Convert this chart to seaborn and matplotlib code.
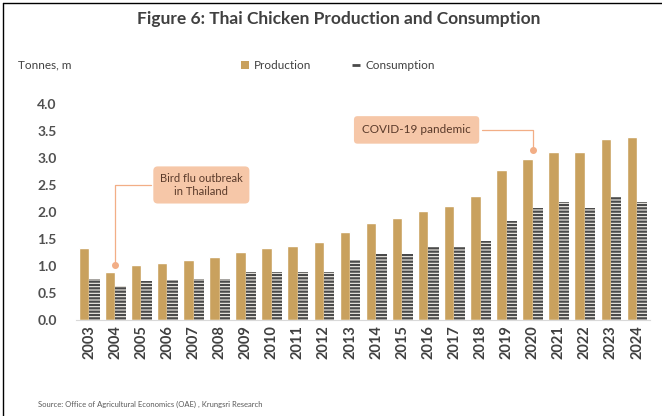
import numpy as np
import pandas as pd
import matplotlib.pyplot as plt
import seaborn as sns
from matplotlib.patches import Patch
from matplotlib.lines import Line2D

years = [str(y) for y in range(2003, 2025)]
production = [1.34, 0.88, 1.02, 1.06, 1.11, 1.16, 1.26, 1.33, 1.36, 1.45, 1.62,
              1.79, 1.88, 2.02, 2.11, 2.30, 2.77, 2.99, 3.11, 3.11, 3.36, 3.39]
consumption = [0.75, 0.62, 0.73, 0.74, 0.75, 0.75, 0.88, 0.88, 0.88, 0.88, 1.11,
               1.23, 1.23, 1.35, 1.35, 1.47, 1.83, 2.07, 2.18, 2.07, 2.28, 2.18]

df = pd.DataFrame({"year": years * 2,
                   "value": production + consumption,
                   "series": ["Production"] * len(years) + ["Consumption"] * len(years)})

sns.set_style("white")
plt.rcParams['font.family'] = ['Lato', 'DejaVu Sans']

prod_color = "#C9A15E"
hatch_color = "#4a4a4a"
box_color = "#F6C7A8"
line_color = "#F2AE86"

# hatch settings must be in place before the bars are made
plt.rcParams['hatch.linewidth'] = 1.6
plt.rcParams['hatch.color'] = hatch_color

fig = plt.figure(figsize=(6.62, 4.16), dpi=100)
ax = fig.add_axes([0.115, 0.231, 0.867, 0.519])

sns.barplot(data=df, x="year", y="value", hue="series",
            palette={"Production": prod_color, "Consumption": "#f4f1ea"},
            width=0.8, ax=ax, legend=False, saturation=1)

for bar in ax.containers[1]:
    bar.set_hatch("-----")
    bar.set_edgecolor(hatch_color)
    bar.set_linewidth(0)

ax.set_ylim(0, 4.0)
ax.set_xlim(-0.5, len(years) - 0.5)
ax.set_yticks(np.arange(0, 4.01, 0.5))
ax.set_yticklabels([f"{v:.1f}" for v in np.arange(0, 4.01, 0.5)],
                   fontsize=10, color="#505050", fontweight="bold")
ax.tick_params(axis="x", length=0, labelsize=10.5, labelcolor="#404040", rotation=90, pad=4)
ax.tick_params(axis="y", length=0, pad=14)
for lbl in ax.get_xticklabels():
    lbl.set_fontweight("bold")
for s in ["top", "left", "right"]:
    ax.spines[s].set_visible(False)
ax.spines["bottom"].set_color("#d9d9d9")
ax.set_xlabel("")
ax.set_ylabel("")

# annotations
ax.annotate("Bird flu outbreak\nin Thailand", xy=(1, 1.02), xytext=(4.3, 2.5),
            ha="center", va="center", fontsize=8, color="#5a3a2a",
            bbox=dict(boxstyle="round,pad=0.6,rounding_size=0.4", fc=box_color, ec="none"),
            arrowprops=dict(arrowstyle="-", color=line_color, lw=0.9,
                            connectionstyle="angle,angleA=0,angleB=90,rad=0"))
ax.plot([1], [1.02], "o", color=line_color, ms=4)

ax.annotate("COVID-19 pandemic", xy=(17, 3.15), xytext=(12.55, 3.52),
            ha="center", va="center", fontsize=8.5, color="#5a3a2a",
            bbox=dict(boxstyle="round,pad=0.7,rounding_size=0.3", fc=box_color, ec="none"),
            arrowprops=dict(arrowstyle="-", color=line_color, lw=0.9,
                            connectionstyle="angle,angleA=0,angleB=90,rad=0"))
ax.plot([17], [3.15], "o", color=line_color, ms=4)

fig.text(0.512, 0.955, "Figure 6: Thai Chicken Production and Consumption",
         ha="center", va="center", fontsize=12.5, fontweight="bold", color="#404040")
fig.text(0.027, 0.843, "Tonnes, m", ha="left", va="center", fontsize=8.5, color="#404040")
fig.text(0.057, 0.027, "Source: Office of Agricultural Economics (OAE) , Krungsri Research",
         ha="left", va="center", fontsize=5.5, color="#595959")

handles = [Patch(facecolor=prod_color, edgecolor="none"),
           Line2D([], [], color=hatch_color, marker="_", linestyle="none", ms=6, mew=2)]
fig.legend(handles, ["Production", "Consumption"], loc="center", ncol=2,
           bbox_to_anchor=(0.51, 0.843), frameon=False, fontsize=8.5,
           handlelength=0.7, handleheight=0.7, columnspacing=3.5, handletextpad=0.4,
           labelcolor="#404040")

# frame lines on top and left
fig.add_artist(Line2D([0.005, 0.005], [0, 0.992], transform=fig.transFigure, color="black", lw=1))
fig.add_artist(Line2D([0.005, 1], [0.992, 0.992], transform=fig.transFigure, color="black", lw=1))

fig.savefig("out.png", dpi=100)
